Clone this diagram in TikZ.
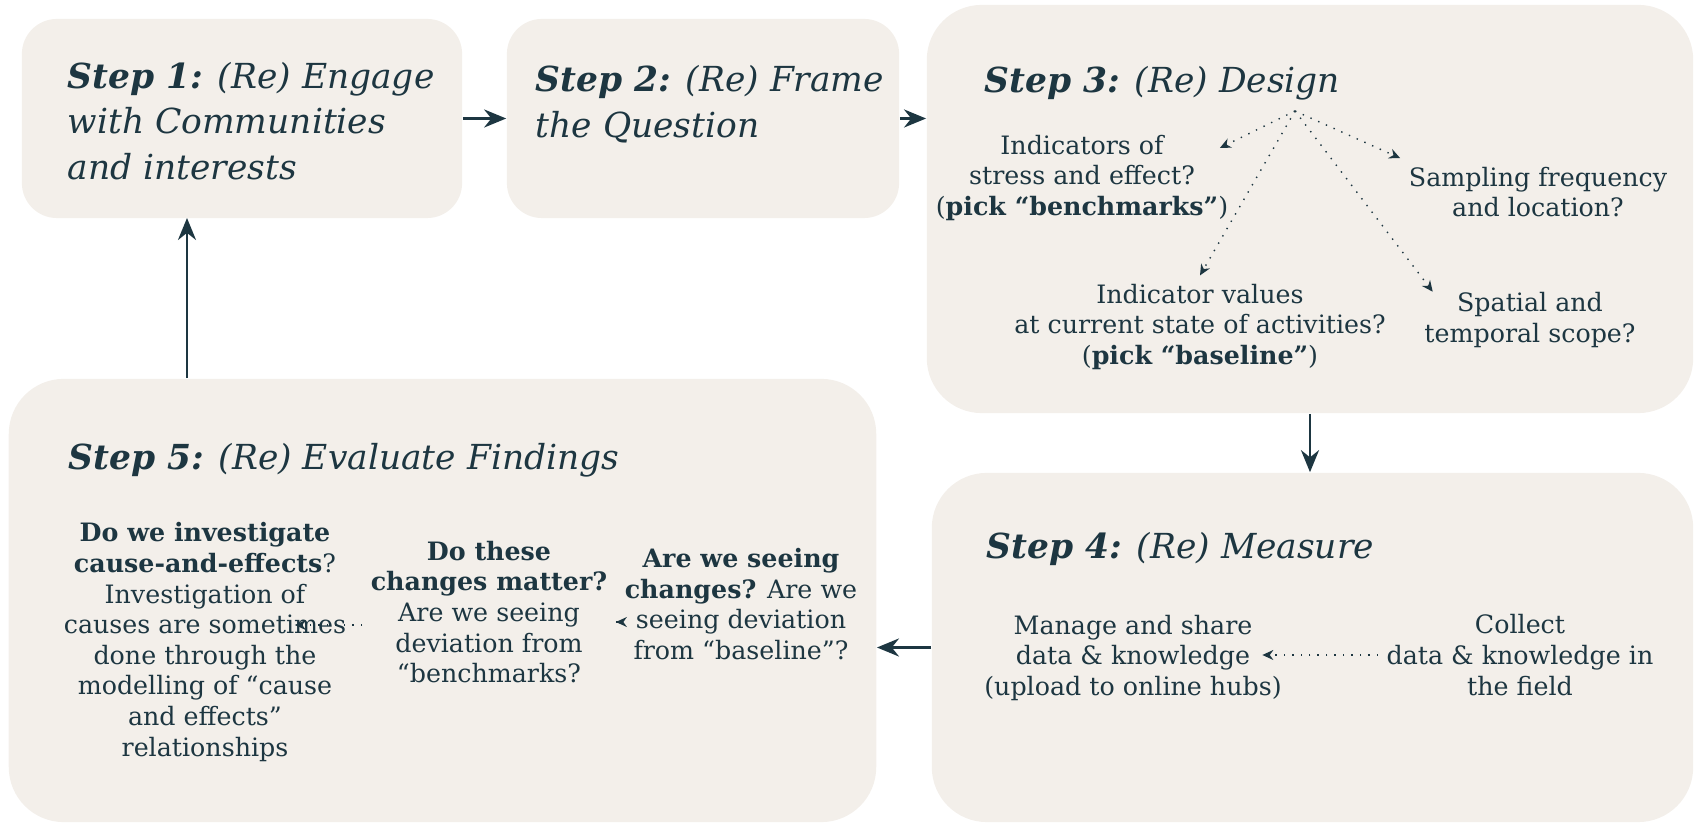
\documentclass[tikz,border=0pt]{standalone}
\usepackage{fontspec}
\setmainfont{DejaVu Serif}
\usetikzlibrary{arrows.meta}

\definecolor{boxfill}{HTML}{F3EFEA}
\definecolor{ink}{HTML}{1D3641}

\tikzset{
  stepbox/.style={draw=none, fill=boxfill, rounded corners=0.35cm, inner sep=0pt},
  bigbox/.style={stepbox, rounded corners=0.55cm},
  title/.style={anchor=west, align=left, inner sep=0pt, text=ink,
    font=\fontsize{9.8}{13}\selectfont\itshape},
  item/.style={align=center, inner sep=0.08cm, text=ink,
    font=\fontsize{7.2}{8.7}\selectfont},
  flow/.style={-{Stealth[length=2.2mm,width=1.8mm]}, line width=0.8pt, draw=ink},
  hint/.style={-{Stealth[length=1.1mm,width=1mm]}, dotted, line width=0.4pt, draw=ink}
}

\begin{document}
\begin{tikzpicture}[x=0.01cm, y=-0.01cm]
    \useasboundingbox (0,0) rectangle (1696,825);

    % Step boxes
    \node[stepbox, minimum width=4.40cm, minimum height=1.99cm] (s1) at (242,118.5) {};
    \node[stepbox, minimum width=3.92cm, minimum height=1.99cm] (s2) at (703,118.5) {};
    \node[bigbox, minimum width=7.66cm, minimum height=4.08cm] (s3) at (1310,209) {};
    \node[bigbox, minimum width=7.61cm, minimum height=3.49cm] (s4) at (1312.5,647.5) {};
    \node[bigbox, minimum width=8.67cm, minimum height=4.43cm] (s5) at (442.5,600.5) {};

    % Titles
    \node[title] (t1) at (67,121) {\textbf{Step 1:} (Re) Engage\\with Communities\\and interests};
    \node[title] (t2) at (535,104) {\textbf{Step 2:} (Re) Frame\\the Question};
    \node[title] (t3) at (984,83) {\textbf{Step 3:} (Re) Design};
    \node[title] (t4) at (986,549) {\textbf{Step 4:} (Re) Measure};
    \node[title] (t5) at (68,460) {\textbf{Step 5:} (Re) Evaluate Findings};

    % Step 3 questions
    \coordinate (hub) at (1295,111);
    \node[item] (ind) at (1082,178) {Indicators of\\stress and effect?\\(\textbf{pick “benchmarks”})};
    \node[item] (samp) at (1538,192) {Sampling frequency\\and location?};
    \node[item] (vals) at (1200,327) {Indicator values\\at current state of activities?\\(\textbf{pick “baseline”})};
    \node[item] (scope) at (1530,320) {Spatial and\\temporal scope?};
    \draw[hint] (hub) -- ([xshift=-0.17cm,yshift=0.30cm]ind.east);
    \draw[hint] (hub) -- (vals.north);
    \draw[hint] (hub) -- (samp.north west);
    \draw[hint] (hub) -- ([xshift=0.17cm,yshift=-0.08cm]scope.north west);

    % Step 4 tasks
    \node[item] (manage) at (1133,658) {Manage and share\\data \& knowledge\\(upload to online hubs)};
    \node[item] (collect) at (1520,655) {Collect\\data \& knowledge in\\the field};
    \draw[hint, shorten >=-0.28cm] (collect.west) -- (collect.west -| manage.east);

    % Step 5 questions
    \node[item] (cause) at (205,642) {\textbf{Do we investigate}\\\textbf{cause-and-effects}?\\Investigation of\\causes are sometimes\\done through the\\modelling of “cause\\and effects”\\relationships};
    \node[item] (matter) at (489,612) {\textbf{Do these}\\\textbf{changes matter?}\\Are we seeing\\deviation from\\“benchmarks?};
    \node[item] (seeing) at (741,604) {\textbf{Are we seeing}\\\textbf{changes?} Are we\\seeing deviation\\from “baseline”?};
    \draw[hint] ([yshift=-0.18cm]seeing.west) -- ([yshift=-0.18cm]seeing.west -| matter.east);
    \draw[hint, shorten >=-0.6cm] ([yshift=-0.13cm]matter.west) -- ([yshift=-0.13cm]matter.west -| cause.east);

    % Cycle
    \coordinate (back) at (187,218);
    \draw[flow] (s1) -- (s2);
    \draw[flow] (s2.east) -- (s2.east -| s3.west);
    \draw[flow] (s3.south) -- (s3.south |- s4.north);
    \draw[flow] (s4.west) -- (s4.west -| s5.east);
    \draw[flow] (back |- s5.north) -- (back);

\end{tikzpicture}
\end{document}
